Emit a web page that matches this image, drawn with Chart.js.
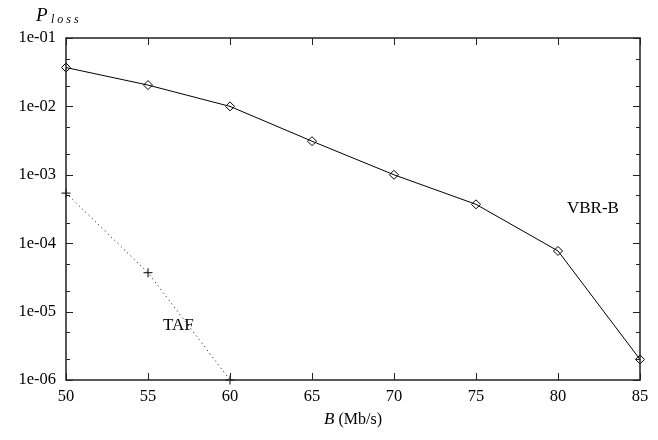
<!DOCTYPE html>
<html>
<head>
<meta charset="utf-8">
<script src="https://cdn.jsdelivr.net/npm/chart.js@4"></script>
<style>
  body { margin: 0; background: #fff; }
  #wrap { width: 658px; height: 440px; }
</style>
</head>
<body>
<div id="wrap"><canvas id="myChart" width="658" height="440"></canvas></div>
<script>
const bandwidth = [50, 55, 60, 65, 70, 75, 80, 85];
const vbrB = [3.7e-2, 2.05e-2, 1e-2, 3.1e-3, 1e-3, 3.7e-4, 7.7e-5, 2e-6];
const tafBandwidth = [50, 55, 60];
const taf = [5.4e-4, 3.7e-5, 1e-6];
const xTicks = [50, 55, 60, 65, 70, 75, 80, 85];
const yTicks = [1e-6, 1e-5, 1e-4, 1e-3, 1e-2, 1e-1];
const yTickLabels = ['1e-06', '1e-05', '1e-04', '1e-03', '1e-02', '1e-01'];

const serif = '"Liberation Serif", "Times New Roman", serif';

// minor ticks at 2 and 5 of each decade
function logTicks() {
  const out = [];
  yTicks.forEach((d, i) => {
    out.push({ value: d, major: true });
    if (i < yTicks.length - 1) {
      out.push({ value: d * 2 });
      out.push({ value: d * 5 });
    }
  });
  return out;
}

const frame = {
  id: 'frame',
  afterDraw(chart) {
    const c = chart.ctx, a = chart.chartArea;
    const x = chart.scales.x, y = chart.scales.y;
    c.save();
    c.strokeStyle = '#222';
    c.lineWidth = 1.5;
    c.strokeRect(a.left, a.top, a.right - a.left, a.bottom - a.top);
    c.lineWidth = 1;
    c.beginPath();
    y.ticks.forEach(t => {
      const py = Math.round(y.getPixelForValue(t.value)) + 0.5;
      const len = t.major ? 7 : 4;
      c.moveTo(a.left, py); c.lineTo(a.left + len, py);
      c.moveTo(a.right, py); c.lineTo(a.right - len, py);
    });
    x.ticks.forEach(t => {
      const px = Math.round(x.getPixelForValue(t.value)) + 0.5;
      c.moveTo(px, a.bottom); c.lineTo(px, a.bottom - 7);
      c.moveTo(px, a.top); c.lineTo(px, a.top + 7);
    });
    c.stroke();

    c.fillStyle = '#000';
    c.textBaseline = 'alphabetic';
    // y title
    c.font = 'italic 19px ' + serif;
    c.fillText('P', 36, 21);
    c.font = 'italic 12px ' + serif;
    let sx = 51;
    for (const ch of 'loss') { c.fillText(ch, sx, 23); sx += c.measureText(ch).width + 3; }
    // x title
    c.font = 'italic 17px ' + serif;
    const bw = c.measureText('B ').width;
    c.font = '16px ' + serif;
    const rw = c.measureText('(Mb/s)').width;
    let tx = 353 - (bw + rw) / 2;
    c.font = 'italic 17px ' + serif;
    c.fillText('B ', tx, 424);
    c.font = '16px ' + serif;
    c.fillText('(Mb/s)', tx + bw, 424);
    // series labels
    c.font = '17px ' + serif;
    c.fillText('VBR-B', 567, 213);
    c.fillText('TAF', 163, 330);
    c.restore();
  }
};

new Chart(document.getElementById('myChart'), {
  type: 'line',
  data: {
    datasets: [{
      label: 'VBR-B',
      data: bandwidth.map((b, i) => ({ x: b, y: vbrB[i] })),
      borderColor: '#000',
      borderWidth: 1,
      pointStyle: 'rectRot',
      pointRadius: 4.5,
      pointBorderWidth: 1,
      pointBorderColor: '#000',
      pointBackgroundColor: 'rgba(0,0,0,0)',
      clip: false
    }, {
      label: 'TAF',
      data: tafBandwidth.map((b, i) => ({ x: b, y: taf[i] })),
      borderColor: '#000',
      borderWidth: 1,
      borderDash: [1, 3.5],
      pointStyle: 'cross',
      pointRadius: 4.5,
      pointBorderWidth: 1,
      pointBorderColor: '#000',
      clip: false
    }]
  },
  options: {
    responsive: false,
    animation: false,
    layout: { padding: { left: 0, right: 18, top: 38, bottom: 0 } },
    plugins: { legend: { display: false }, tooltip: { enabled: false } },
    scales: {
      x: {
        type: 'linear', min: 50, max: 85,
        afterBuildTicks: s => { s.ticks = xTicks.map(v => ({ value: v })); },
        afterFit: s => { s.height = 60; },
        grid: { display: false, drawTicks: false },
        border: { display: false },
        ticks: { color: '#000', padding: 7, font: { family: serif, size: 16.5 } }
      },
      y: {
        type: 'logarithmic', min: 1e-6, max: 1e-1,
        afterBuildTicks: s => { s.ticks = logTicks(); },
        afterFit: s => { s.width = 66; },
        grid: { display: false, drawTicks: false },
        border: { display: false },
        ticks: {
          color: '#000', padding: 10, autoSkip: false,
          font: { family: serif, size: 16.5 },
          callback: v => {
            const i = yTicks.findIndex(d => Math.abs(d - v) / d < 1e-6);
            return i >= 0 ? yTickLabels[i] : '';
          }
        }
      }
    }
  },
  plugins: [frame]
});
</script>
</body>
</html>
